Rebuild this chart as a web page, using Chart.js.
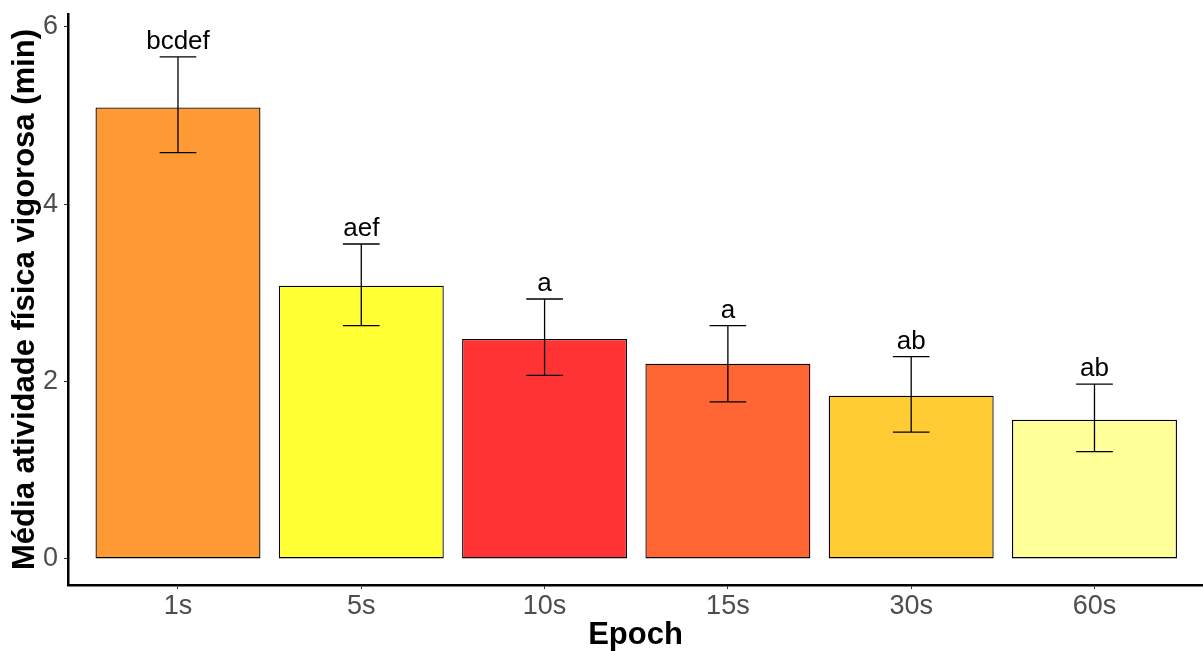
<!DOCTYPE html>
<html>
<head>
<meta charset="utf-8">
<script src="https://cdn.jsdelivr.net/npm/chart.js@4/dist/chart.umd.min.js"></script>
<style>
  html, body { margin: 0; padding: 0; background: #fff; }
  #wrap { width: 1203px; height: 651px; position: relative; }
</style>
</head>
<body>
<div id="wrap"><canvas id="c" width="1203" height="651"></canvas></div>
<script>
const categories = ["1s", "5s", "10s", "15s", "30s", "60s"];
const means      = [5.09, 3.08, 2.48, 2.20, 1.84, 1.57];
const errLow     = [4.58, 2.63, 2.07, 1.77, 1.43, 1.21];
const errHigh    = [5.66, 3.55, 2.93, 2.63, 2.28, 1.97];
const letters    = ["bcdef", "aef", "a", "a", "ab", "ab"];
const barColors  = ["#FF9933", "#FFFF33", "#FF3333", "#FF6633", "#FFCC33", "#FFFF99"];
const yTicks     = [0, 2, 4, 6];

const positions = categories.map((_, i) => i + 1);

const errorBarPlugin = {
  id: 'errorBars',
  afterDatasetsDraw(chart) {
    const ctx = chart.ctx;
    const xs = chart.scales.x, ys = chart.scales.y;
    const unit = xs.getPixelForValue(2) - xs.getPixelForValue(1);
    const capHalf = unit * 0.1;
    ctx.save();
    ctx.strokeStyle = '#000';
    ctx.lineWidth = 1.3;
    positions.forEach((p, i) => {
      const x = xs.getPixelForValue(p);
      const yt = ys.getPixelForValue(errHigh[i]);
      const yb = ys.getPixelForValue(errLow[i]);
      ctx.beginPath();
      ctx.moveTo(x, yt); ctx.lineTo(x, yb);
      ctx.moveTo(x - capHalf, yt); ctx.lineTo(x + capHalf, yt);
      ctx.moveTo(x - capHalf, yb); ctx.lineTo(x + capHalf, yb);
      ctx.stroke();
      ctx.fillStyle = '#000';
      ctx.font = '26px "Liberation Sans", Arial, sans-serif';
      ctx.textAlign = 'center';
      ctx.textBaseline = 'alphabetic';
      ctx.fillText(letters[i], x, yt - 8);
    });
    ctx.restore();
  }
};

new Chart(document.getElementById('c'), {
  type: 'bar',
  data: {
    datasets: [{
      data: positions.map((p, i) => ({ x: p, y: means[i] })),
      backgroundColor: barColors,
      borderColor: '#000',
      borderWidth: 1.3,
      borderSkipped: false,
      barPercentage: 0.9,
      categoryPercentage: 1.0
    }]
  },
  options: {
    responsive: false,
    animation: false,
    layout: { padding: { top: 14, right: 0, left: 0, bottom: 0 } },
    plugins: { legend: { display: false }, tooltip: { enabled: false } },
    scales: {
      x: {
        type: 'linear',
        offset: false,
        min: 0.4,
        max: 6.592,
        afterBuildTicks(s) { s.ticks = positions.map(v => ({ value: v })); },
        afterFit(s) { s.height = 66; s.paddingLeft = 0; s.paddingRight = 0; },
        ticks: {
          callback: (v) => categories[v - 1],
          color: '#4d4d4d',
          font: { family: '"Liberation Sans", Arial, sans-serif', size: 27 },
          padding: 1,
          maxRotation: 0,
          autoSkip: false
        },
        grid: { offset: false, drawOnChartArea: false, drawTicks: true, tickLength: 4, color: '#333333', lineWidth: 1 },
        border: { display: true, color: '#000', width: 2.5 },
        title: {
          display: true,
          text: 'Epoch',
          color: '#000',
          font: { family: '"Liberation Sans", Arial, sans-serif', size: 31, weight: 'bold', lineHeight: 1 },
          padding: { top: 0, bottom: 0 }
        }
      },
      y: {
        type: 'linear',
        min: -0.294,
        max: 6.143,
        afterBuildTicks(s) { s.ticks = yTicks.map(v => ({ value: v })); },
        afterFit(s) { s.width = 68; s.paddingTop = 0; s.paddingBottom = 0; },
        ticks: {
          color: '#4d4d4d',
          font: { family: '"Liberation Sans", Arial, sans-serif', size: 27 },
          padding: 6
        },
        grid: { drawOnChartArea: false, drawTicks: true, tickLength: 4, color: '#333333', lineWidth: 1 },
        border: { display: true, color: '#000', width: 2.5 },
        title: {
          display: true,
          text: 'Média atividade física vigorosa (min)',
          color: '#000',
          font: { family: '"Liberation Sans", Arial, sans-serif', size: 31, weight: 'bold', lineHeight: 1 },
          padding: { top: 9.5, bottom: 0 }
        }
      }
    }
  },
  plugins: [errorBarPlugin]
});
</script>
</body>
</html>
